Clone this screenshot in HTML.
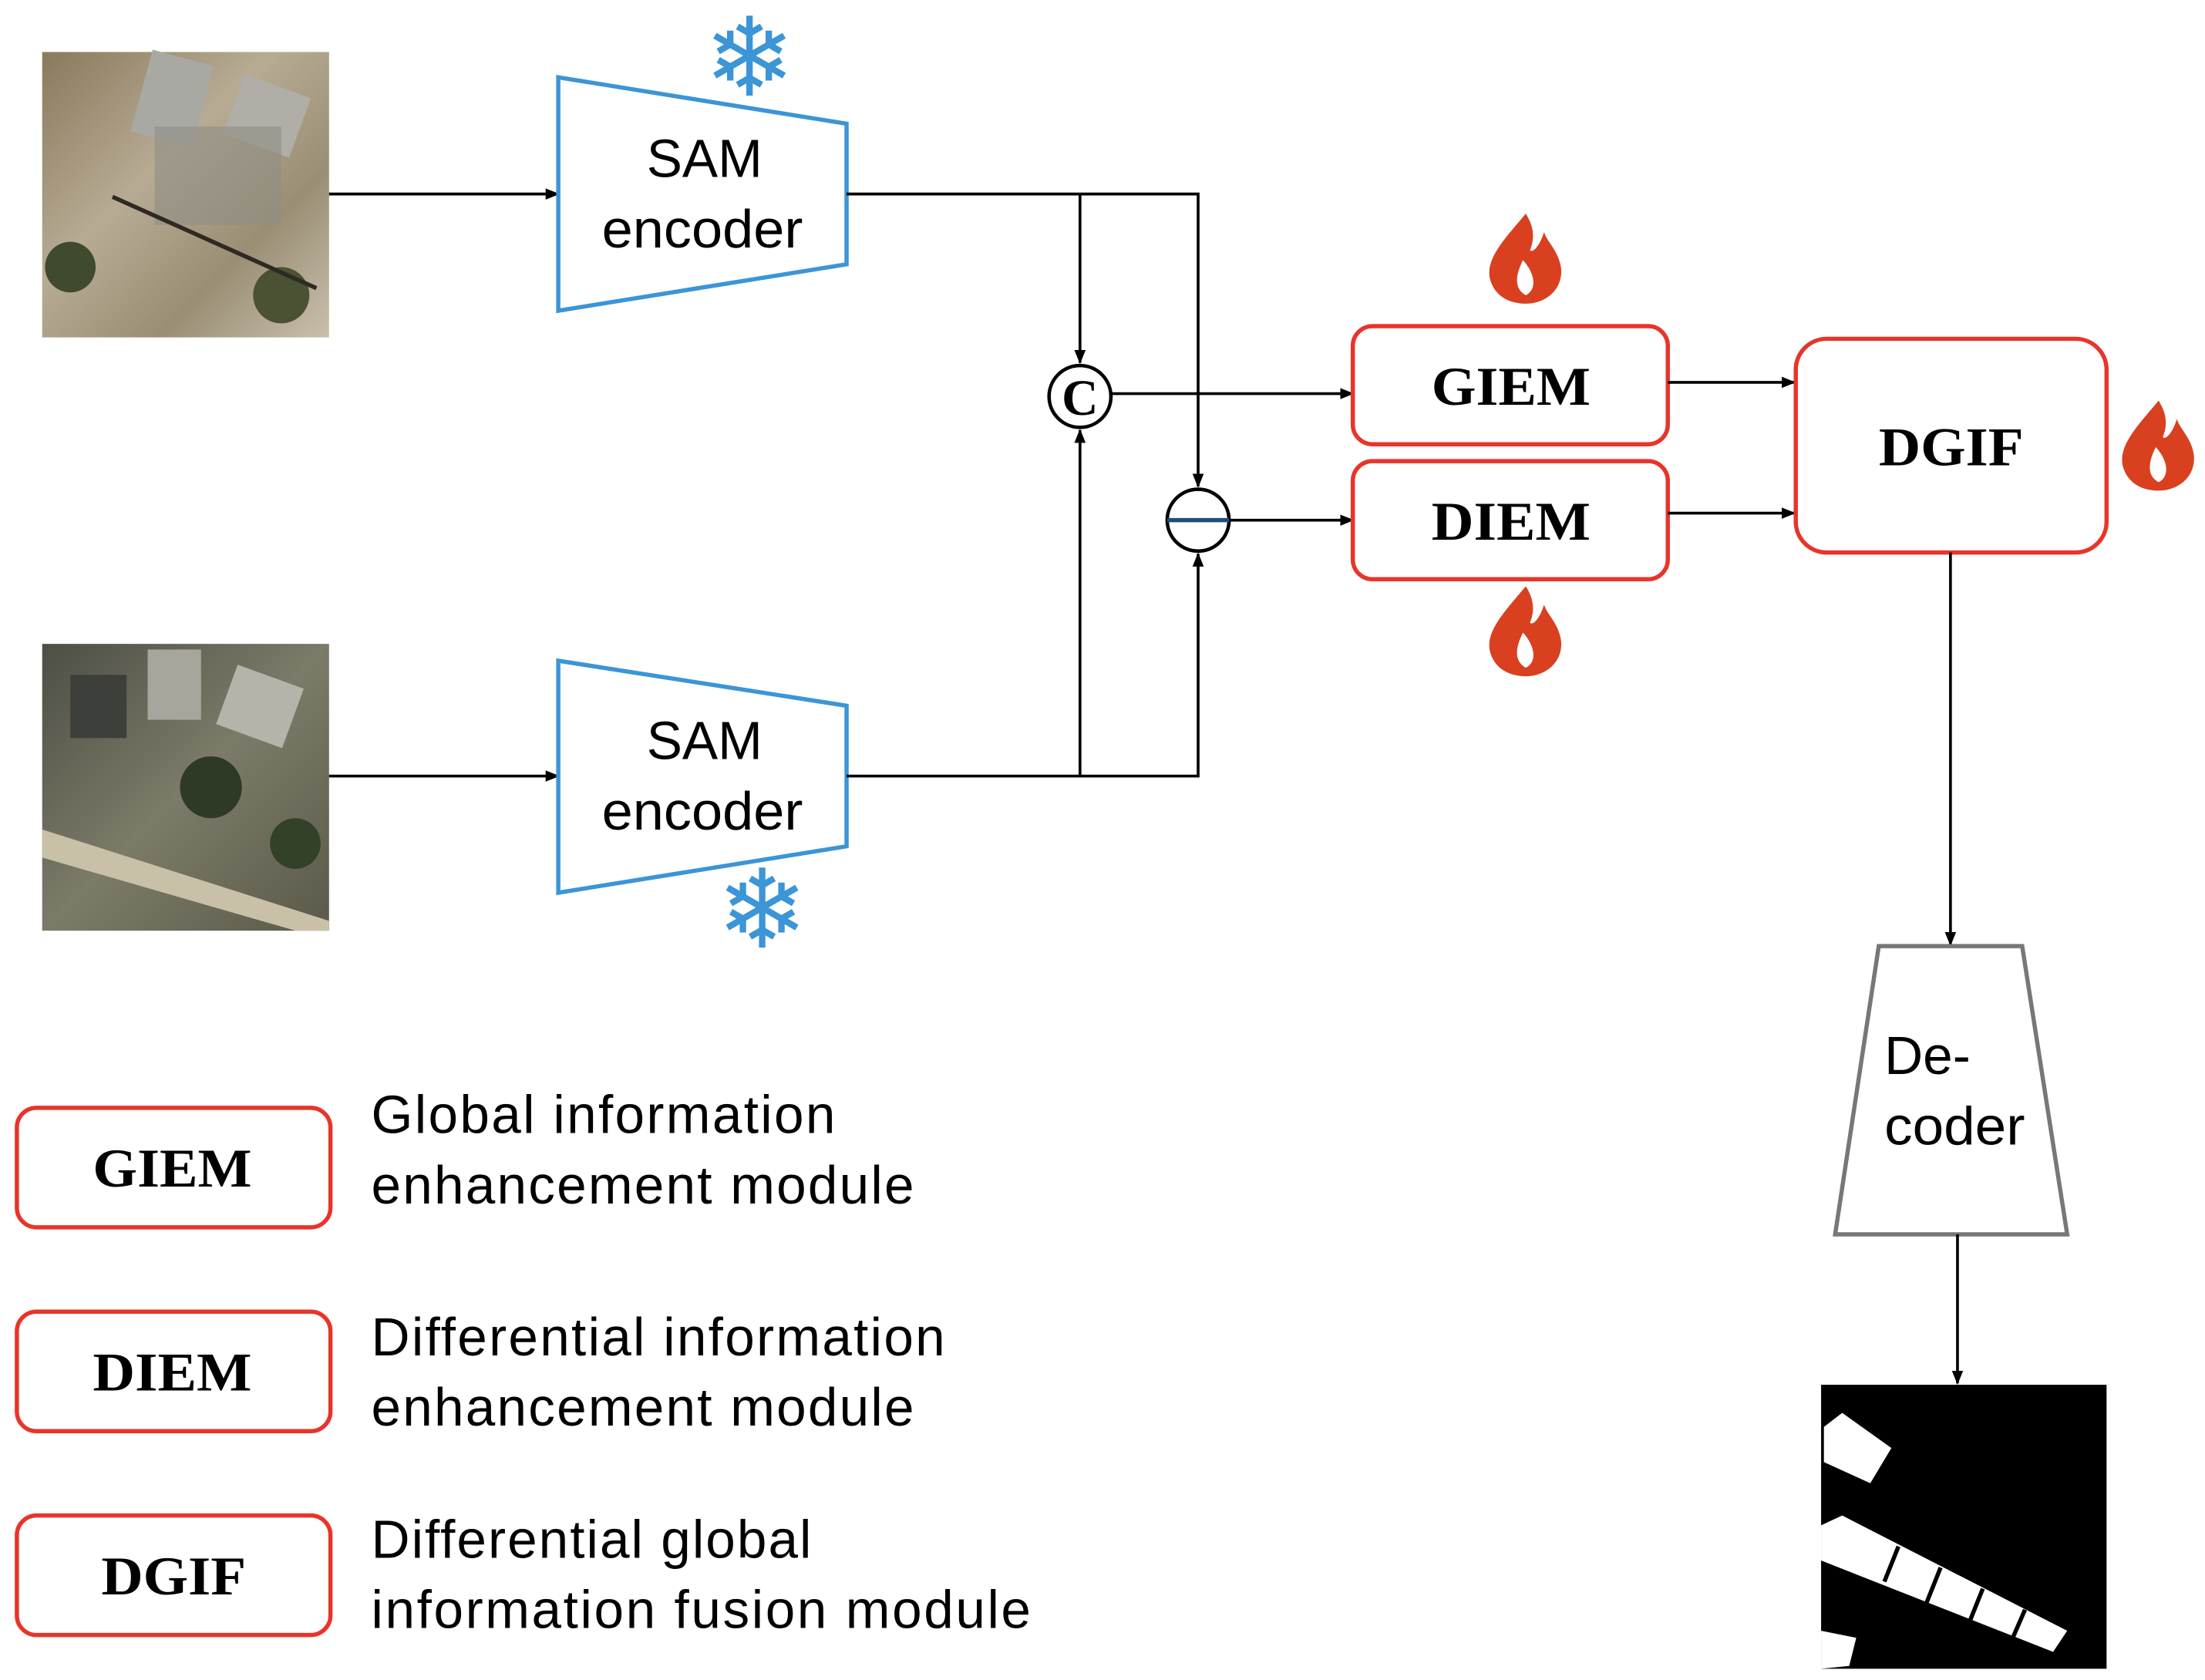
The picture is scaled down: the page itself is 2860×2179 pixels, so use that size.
<!DOCTYPE html>
<html><head><meta charset="utf-8"><style>
html,body{margin:0;padding:0;background:#fff;}
svg{display:block;}
.sans{font-family:"Liberation Sans",sans-serif;}
.serif{font-family:"Liberation Serif",serif;font-weight:bold;}
</style></head><body>
<svg width="2860" height="2179" viewBox="0 0 1568 1195" preserveAspectRatio="none" xmlns="http://www.w3.org/2000/svg">
<defs>
<marker id="ar" markerWidth="10" markerHeight="10" refX="9" refY="5" orient="auto" markerUnits="userSpaceOnUse">
<path d="M0,1 L10,5 L0,9 Z" fill="#000"/></marker>
<linearGradient id="g1" x1="0" y1="0" x2="1" y2="1">
<stop offset="0" stop-color="#8a7a5c"/><stop offset="0.4" stop-color="#b7ab94"/><stop offset="0.7" stop-color="#9a8e74"/><stop offset="1" stop-color="#c9c0ad"/></linearGradient>
<linearGradient id="g2" x1="0" y1="0" x2="1" y2="1">
<stop offset="0" stop-color="#4d4f45"/><stop offset="0.5" stop-color="#7c7a68"/><stop offset="1" stop-color="#5b5a4a"/></linearGradient>
</defs>
<rect width="1568" height="1195" fill="#fff"/>

<rect x="30" y="37" width="204" height="203" fill="url(#g1)"/>
<rect x="100" y="40" width="45" height="60" fill="#a9a9a3" transform="rotate(15 122 70)"/>
<rect x="165" y="60" width="50" height="45" fill="#b0aea6" transform="rotate(20 190 82)"/>
<rect x="110" y="90" width="90" height="70" fill="#8f8d85" opacity="0.6"/>
<circle cx="50" cy="190" r="18" fill="#3f4a2e"/><circle cx="200" cy="210" r="20" fill="#4a5233"/>
<line x1="80" y1="140" x2="225" y2="205" stroke="#2e2a22" stroke-width="3"/>
<rect x="30" y="458" width="204" height="204" fill="url(#g2)"/>
<rect x="105" y="462" width="38" height="50" fill="#a7a59c"/>
<rect x="160" y="480" width="50" height="45" fill="#b5b3aa" transform="rotate(20 185 502)"/>
<rect x="50" y="480" width="40" height="45" fill="#3d3f3a"/>
<polygon points="30,590 234,655 234,662 210,662 30,610" fill="#c8c1a8"/>
<circle cx="150" cy="560" r="22" fill="#2f3a26"/><circle cx="210" cy="600" r="18" fill="#33402a"/>

<line x1="234" y1="138" x2="397" y2="138" stroke="#000" stroke-width="2" marker-end="url(#ar)"/>
<line x1="234" y1="552" x2="397" y2="552" stroke="#000" stroke-width="2" marker-end="url(#ar)"/>

<polygon points="397,55 602,88 602,188 397,221" fill="#fff" stroke="#3b95d6" stroke-width="3"/>
<text x="501" y="126" class="sans" font-size="38" text-anchor="middle">SAM</text>
<text x="428" y="176" class="sans" font-size="38" textLength="143" lengthAdjust="spacingAndGlyphs">encoder</text>
<polygon points="397,470 602,502 602,602 397,635" fill="#fff" stroke="#3b95d6" stroke-width="3"/>
<text x="501" y="540" class="sans" font-size="38" text-anchor="middle">SAM</text>
<text x="428" y="590" class="sans" font-size="38" textLength="143" lengthAdjust="spacingAndGlyphs">encoder</text>
<text x="533" y="68" font-size="78" fill="#3b95d6" text-anchor="middle" class="sans">❄</text>
<text x="542" y="674" font-size="78" fill="#3b95d6" text-anchor="middle" class="sans">❄</text>

<polyline points="602,138 852,138 852,346" fill="none" stroke="#000" stroke-width="2" marker-end="url(#ar)"/>
<line x1="768" y1="138" x2="768" y2="258" stroke="#000" stroke-width="2" marker-end="url(#ar)"/>
<polyline points="602,552 852,552 852,394" fill="none" stroke="#000" stroke-width="2" marker-end="url(#ar)"/>
<line x1="768" y1="552" x2="768" y2="306" stroke="#000" stroke-width="2" marker-end="url(#ar)"/>
<circle cx="768" cy="282" r="22" fill="#fff" stroke="#000" stroke-width="2.5"/>
<text x="768" y="295" class="serif" font-size="36" text-anchor="middle">C</text>
<circle cx="852" cy="370" r="22" fill="#fff" stroke="#000" stroke-width="2.5"/>
<line x1="830" y1="370" x2="874" y2="370" stroke="#1f4e79" stroke-width="3"/>
<line x1="790" y1="280" x2="962" y2="280" stroke="#000" stroke-width="2" marker-end="url(#ar)"/>
<line x1="874" y1="370" x2="962" y2="370" stroke="#000" stroke-width="2" marker-end="url(#ar)"/>

<rect x="962" y="232" width="224" height="84" rx="14" fill="#fff" stroke="#e8342a" stroke-width="3"/>
<text x="1018" y="288" class="serif" font-size="39" textLength="113" lengthAdjust="spacingAndGlyphs">GIEM</text>
<rect x="962" y="328" width="224" height="84" rx="14" fill="#fff" stroke="#e8342a" stroke-width="3"/>
<text x="1018" y="384" class="serif" font-size="39" textLength="113" lengthAdjust="spacingAndGlyphs">DIEM</text>
<line x1="1186" y1="272" x2="1276" y2="272" stroke="#000" stroke-width="2" marker-end="url(#ar)"/>
<line x1="1186" y1="365" x2="1276" y2="365" stroke="#000" stroke-width="2" marker-end="url(#ar)"/>

<g fill="#d9401f">
<path d="M1085,152 C1070,170 1055,185 1060,200 C1064,212 1075,216 1085,216 C1100,216 1112,205 1110,190 C1108,178 1100,172 1098,165 C1095,175 1090,180 1088,178 C1092,168 1090,160 1085,152 Z"/>
<path d="M1085,417 C1070,435 1055,450 1060,465 C1064,477 1075,481 1085,481 C1100,481 1112,470 1110,455 C1108,443 1100,437 1098,430 C1095,440 1090,445 1088,443 C1092,433 1090,425 1085,417 Z"/>
<path d="M1535,285 C1520,303 1505,318 1510,333 C1514,345 1525,349 1535,349 C1550,349 1562,338 1560,323 C1558,311 1550,305 1548,298 C1545,308 1540,313 1538,311 C1542,301 1540,293 1535,285 Z"/>
</g>
<g fill="#fff">
<path d="M1083,185 C1078,195 1076,205 1085,210 C1093,206 1092,195 1083,185 Z"/>
<path d="M1083,450 C1078,460 1076,470 1085,475 C1093,471 1092,460 1083,450 Z"/>
<path d="M1533,318 C1528,328 1526,338 1535,343 C1543,339 1542,328 1533,318 Z"/>
</g>

<rect x="1277" y="241" width="221" height="152" rx="22" fill="#fff" stroke="#e8342a" stroke-width="3"/>
<text x="1336" y="331" class="serif" font-size="39" textLength="103" lengthAdjust="spacingAndGlyphs">DGIF</text>
<line x1="1387" y1="393" x2="1387" y2="672" stroke="#000" stroke-width="2" marker-end="url(#ar)"/>

<polygon points="1336,673 1438,673 1470,878 1305,878" fill="#fff" stroke="#777" stroke-width="3"/>
<text x="1340" y="764" class="sans" font-size="38">De-</text>
<text x="1340" y="814" class="sans" font-size="38" textLength="100" lengthAdjust="spacingAndGlyphs">coder</text>
<line x1="1392" y1="878" x2="1392" y2="984" stroke="#000" stroke-width="2" marker-end="url(#ar)"/>

<rect x="1295" y="985" width="203" height="202" fill="#000"/>
<polygon points="1297,1015 1310,1005 1345,1030 1330,1055 1297,1040" fill="#fff"/>
<polygon points="1295,1085 1310,1078 1470,1160 1460,1175 1295,1110" fill="#fff"/>
<polygon points="1295,1160 1320,1165 1315,1185 1295,1187" fill="#fff"/>
<g stroke="#000" stroke-width="3"><line x1="1350" y1="1100" x2="1340" y2="1125"/><line x1="1380" y1="1115" x2="1370" y2="1140"/><line x1="1410" y1="1130" x2="1400" y2="1155"/><line x1="1440" y1="1145" x2="1430" y2="1168"/></g>

<rect x="12" y="788" width="223" height="85" rx="14" fill="#fff" stroke="#e8342a" stroke-width="3"/>
<text x="66" y="844" class="serif" font-size="39" textLength="113" lengthAdjust="spacingAndGlyphs">GIEM</text>
<rect x="12" y="933" width="223" height="85" rx="14" fill="#fff" stroke="#e8342a" stroke-width="3"/>
<text x="66" y="989" class="serif" font-size="39" textLength="113" lengthAdjust="spacingAndGlyphs">DIEM</text>
<rect x="12" y="1078" width="223" height="85" rx="14" fill="#fff" stroke="#e8342a" stroke-width="3"/>
<text x="72" y="1134" class="serif" font-size="39" textLength="103" lengthAdjust="spacingAndGlyphs">DGIF</text>
<g class="sans" font-size="38" lengthAdjust="spacingAndGlyphs">
<text x="264" y="806" textLength="330">Global information</text>
<text x="264" y="856" textLength="386">enhancement module</text>
<text x="264" y="964" textLength="408">Differential information</text>
<text x="264" y="1014" textLength="386">enhancement module</text>
<text x="264" y="1108" textLength="313">Differential global</text>
<text x="264" y="1158" textLength="469">information fusion module</text>
</g>
</svg>
</body></html>
